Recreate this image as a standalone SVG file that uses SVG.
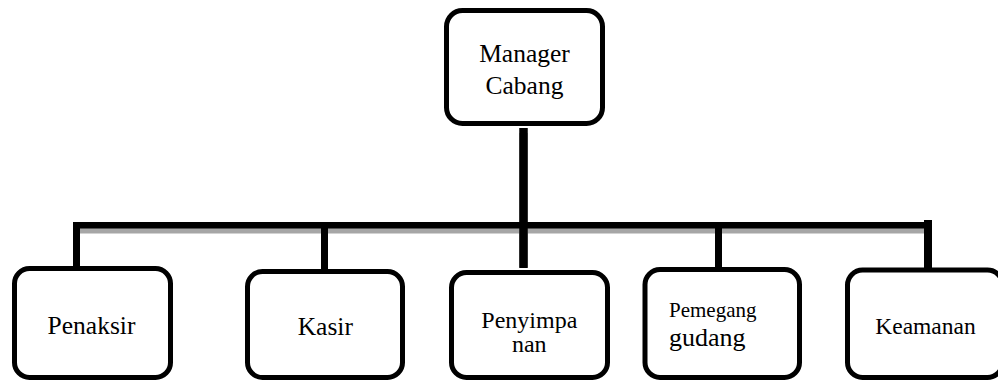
<svg xmlns="http://www.w3.org/2000/svg" width="998" height="381" viewBox="0 0 998 381">
<style>
.box{fill:#fff;stroke:#000;stroke-width:5}
text{font-family:'Liberation Serif','DejaVu Serif',serif;fill:#000;text-anchor:middle}
.ln{fill:none;stroke:#000;stroke-linecap:butt}
.sh{fill:none;stroke:#a6a6a6;stroke-linecap:butt}
</style>
<rect width="998" height="381" fill="#fff"/>
<g id="connectors">
<g id="shadow" transform="translate(0,5)">
<line class="sh" x1="73" y1="225.2" x2="932" y2="225.2" stroke-width="6.6"/>
<line class="sh" x1="76.5" y1="222" x2="76.5" y2="269" stroke-width="7"/>
<line class="sh" x1="324.5" y1="225" x2="324.5" y2="265" stroke-width="7"/>
<line class="sh" x1="523.5" y1="128" x2="523.5" y2="262" stroke-width="8.5"/>
<line class="sh" x1="718.5" y1="225" x2="718.5" y2="274" stroke-width="7"/>
<line class="sh" x1="928" y1="220" x2="928" y2="268" stroke-width="8"/>
</g>
<line class="ln" x1="73" y1="225.2" x2="932" y2="225.2" stroke-width="6.6"/>
<line class="ln" x1="76.5" y1="222" x2="76.5" y2="268" stroke-width="7"/>
<line class="ln" x1="324.5" y1="225" x2="324.5" y2="270" stroke-width="7"/>
<line class="ln" x1="523.5" y1="128" x2="523.5" y2="268" stroke-width="8.5"/>
<line class="ln" x1="718.5" y1="225" x2="718.5" y2="275" stroke-width="7"/>
<line class="ln" x1="928" y1="220" x2="928" y2="272" stroke-width="8"/>
</g>
<g id="manager">
<rect class="box" x="446.5" y="10.5" width="156" height="113" rx="16"/>
<text x="524.5" y="61.7" font-size="25.5">Manager</text>
<text x="524.5" y="94" font-size="25.5">Cabang</text>
</g>
<g id="penaksir">
<rect class="box" x="14.5" y="268.5" width="156" height="109" rx="15"/>
<text x="91.5" y="334" font-size="25.5">Penaksir</text>
</g>
<g id="kasir">
<rect class="box" x="247.5" y="271.5" width="155" height="106" rx="15"/>
<text x="325.3" y="335" font-size="25.5">Kasir</text>
</g>
<g id="penyimpanan">
<rect class="box" x="451.5" y="272.5" width="156" height="105" rx="15"/>
<text x="529.3" y="328" font-size="24">Penyimpa</text>
<text x="529.3" y="351.7" font-size="24">nan</text>
</g>
<g id="pemegang">
<rect class="box" x="645" y="269.5" width="154.5" height="108" rx="15"/>
<text x="669" y="317" font-size="21" style="text-anchor:start">Pemegang</text>
<text x="669" y="346" font-size="26" style="text-anchor:start">gudang</text>
</g>
<g id="keamanan">
<rect class="box" x="847.5" y="270" width="155" height="107.5" rx="15"/>
<text x="925.5" y="334" font-size="23.5">Keamanan</text>
</g>
</svg>
